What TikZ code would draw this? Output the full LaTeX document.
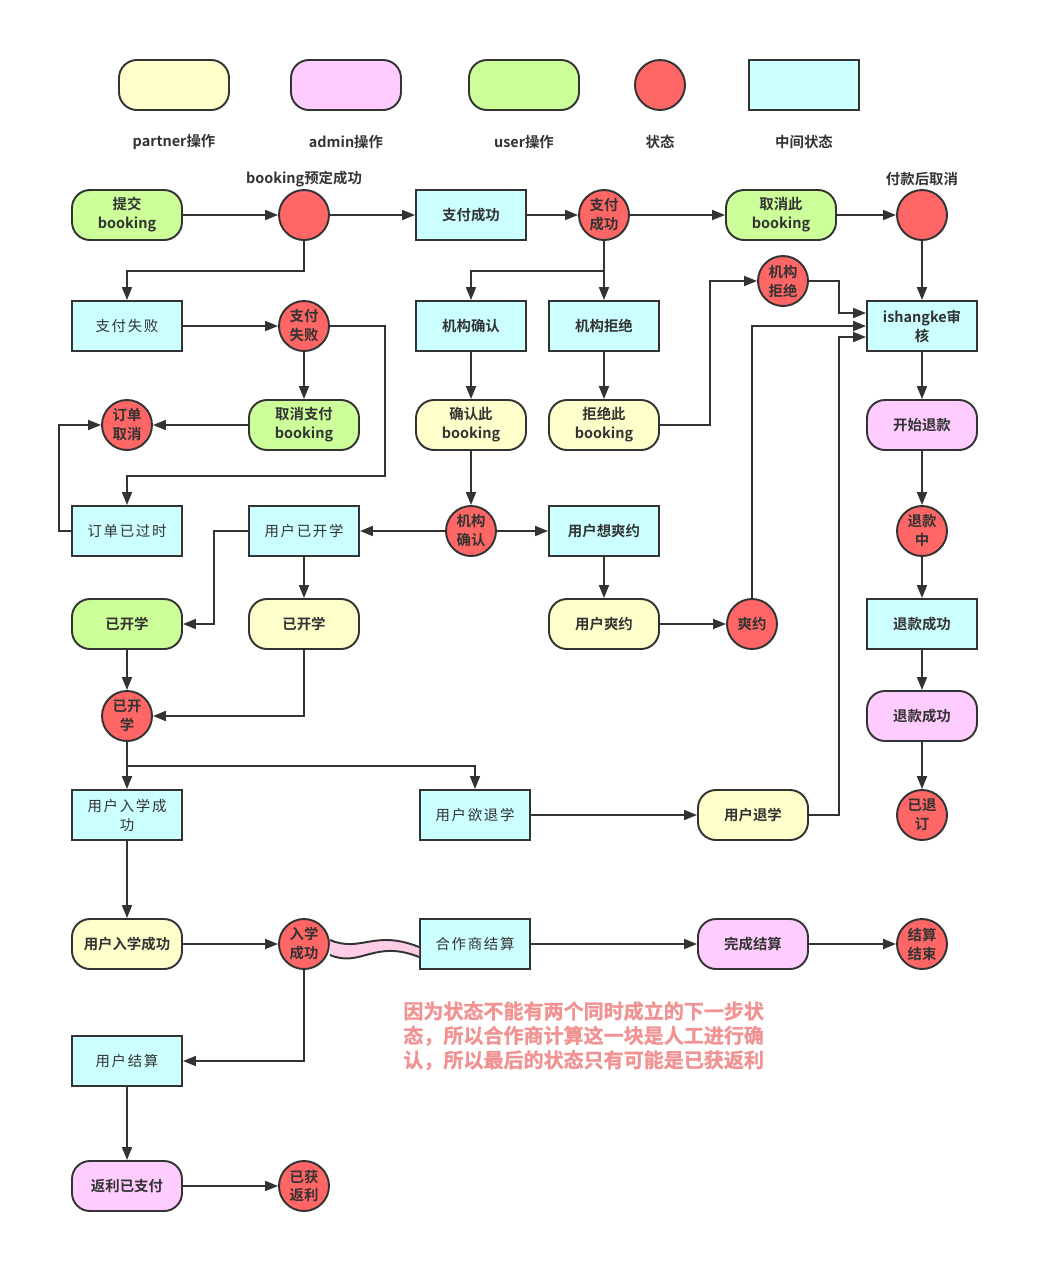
\documentclass[tikz,border=0pt]{standalone}
\usepackage{fontspec}
\setmainfont{Noto Sans CJK SC}[BoldFont={Noto Sans CJK SC Bold}]
\usetikzlibrary{arrows.meta, positioning}

\definecolor{linec}{HTML}{333333}
\definecolor{partnerc}{HTML}{FFFFCC}
\definecolor{adminc}{HTML}{FFCCFF}
\definecolor{userc}{HTML}{CCFF99}
\definecolor{statusc}{HTML}{FF6666}
\definecolor{midc}{HTML}{CCFFFF}
\definecolor{wavec}{HTML}{FFCCE6}
\definecolor{notec}{HTML}{F19393}

\begin{document}
\begin{tikzpicture} [node distance = 2cm, on grid,
    font = \bfseries\fontsize{8.2}{10.8}\selectfont,
    every node/.append style = {text=linec},
    box/.style = {draw=linec, line width=1.1pt, minimum width=2.2cm, minimum height=1cm, inner sep=1pt, align=center},
    partner/.style = {box, rounded corners=0.36cm, fill=partnerc},
    admin/.style = {box, rounded corners=0.36cm, fill=adminc},
    user/.style = {box, rounded corners=0.36cm, fill=userc},
    midbox/.style = {box, fill=midc},
    plain/.style = {font=\mdseries\fontsize{8.2}{10.8}\selectfont\addfontfeature{LetterSpace=12}},
    status/.style = {circle, draw=linec, line width=1.1pt, fill=statusc, minimum size=1cm, inner sep=0pt, align=center},
    flow/.style = {-{Triangle[length=0.26cm, width=0.2cm]}, draw=linec, line width=1.1pt},
    notetext/.style = {text=notec, font=\bfseries\fontsize{11.4}{13.9}\selectfont\addfontfeature{FakeBold=1.2}, align=left, inner sep=0pt}]
    \useasboundingbox (0,0) rectangle (21.06,-25.42);

    % legend
    \node (legp) [partner] at (3.48,-1.70) {};
    \node (lega) [admin, right = 3.44cm of legp] {};
    \node (legu) [user, right = 3.56cm of lega] {};
    \node (legs) [status, right = 2.72cm of legu] {};
    \node (legm) [midbox, right = 2.88cm of legs] {};
    \node (legptext) [below = 1.14cm of legp] {partner操作};
    \node (legatext) [below = 1.14cm of lega] {admin操作};
    \node (legutext) [below = 1.14cm of legu] {user操作};
    \node (legstext) [below = 1.14cm of legs] {状态};
    \node (legmtext) [below = 1.14cm of legm] {中间状态};

    % booking and payment
    \node (submit) [user] at (2.54,-4.30) {提交\\booking};
    \node (booked) [status, right = 3.54cm of submit] {};
    \node (bookedtext) [above = 0.72cm of booked] {booking预定成功};
    \node (paidbox) [midbox, right = 3.34cm of booked] {支付成功};
    \node (paid) [status, right = 2.66cm of paidbox] {支付\\成功};
    \node (cancelpaid) [user, right = 3.54cm of paid] {取消此\\booking};
    \node (aftercancel) [status, right = 2.82cm of cancelpaid] {};
    \node (aftercanceltext) [above = 0.72cm of aftercancel] {付款后取消};

    \node (payfailbox) [midbox, plain, below = 2.22cm of submit] {支付失败};
    \node (payfail) [status, below = 2.22cm of booked] {支付\\失败};
    \node (orgokbox) [midbox, below = 2.22cm of paidbox] {机构确认};
    \node (orgnobox) [midbox, below = 2.22cm of paid] {机构拒绝};
    \node (orgno) [status, below right = 1.32cm and 3.58cm of paid] {机构\\拒绝};
    \node (review) [midbox, below = 2.22cm of aftercancel] {ishangke审\\核};

    \node (ordercancel) [status, below = 1.98cm of payfailbox] {订单\\取消};
    \node (cancelpay) [user, below = 1.98cm of payfail] {取消支付\\booking};
    \node (confirm) [partner, below = 1.98cm of orgokbox] {确认此\\booking};
    \node (reject) [partner, below = 1.98cm of orgnobox] {拒绝此\\booking};
    \node (refundstart) [admin, below = 1.98cm of review] {开始退款};

    \node (expired) [midbox, plain, below = 2.12cm of ordercancel] {订单已过时};
    \node (startedbox) [midbox, plain, below = 2.12cm of cancelpay] {用户已开学};
    \node (orgok) [status, below = 2.12cm of confirm] {机构\\确认};
    \node (noshowbox) [midbox, below = 2.12cm of reject] {用户想爽约};
    \node (refunding) [status, below = 2.12cm of refundstart] {退款\\中};

    \node (starteduser) [user, below = 1.86cm of expired] {已开学};
    \node (startedpartner) [partner, below = 1.86cm of startedbox] {已开学};
    \node (noshowop) [partner, below = 1.86cm of noshowbox] {用户爽约};
    \node (noshow) [status, right = 2.96cm of noshowop] {爽约};
    \node (refunded) [midbox, below = 1.86cm of refunding] {退款成功};

    \node (started) [status, below = 1.84cm of starteduser] {已开\\学};
    \node (refundedadmin) [admin, below = 1.84cm of refunded] {退款成功};

    % enrolment and settlement
    \node (enrolledbox) [midbox, plain, below = 1.98cm of started] {用户入学成\\功};
    \node (quitbox) [midbox, plain, right = 6.96cm of enrolledbox] {用户欲退学};
    \node (quit) [partner, right = 5.56cm of quitbox] {用户退学};
    \node (unsubscribed) [status, below = 1.98cm of refundedadmin] {已退\\订};

    \node (enrolled) [partner, below = 2.58cm of enrolledbox] {用户入学成功};
    \node (enrolledst) [status, right = 3.54cm of enrolled] {入学\\成功};
    \node (settlebox) [midbox, plain, right = 6.96cm of enrolled] {合作商结算};
    \node (settle) [admin, right = 5.56cm of settlebox] {完成结算};
    \node (settled) [status, right = 3.38cm of settle] {结算\\结束};

    \node (usersettle) [midbox, plain, below = 2.34cm of enrolled] {用户结算};
    \node (rebate) [admin, below = 2.5cm of usersettle] {返利已支付};
    \node (rebated) [status, right = 3.54cm of rebate] {已获\\返利};

    \node (note) [notetext, anchor=north west] at (8.06,-20.02)
        {因为状态不能有两个同时成立的下一步状\\态，所以合作商计算这一块是人工进行确\\认，所以最后的状态只有可能是已获返利};

    % connectors
    \draw[flow] (submit) -- (booked);
    \draw[flow] (booked) -- (paidbox);
    \draw[flow] (paidbox) -- (paid);
    \draw[flow] (paid) -- (cancelpaid);
    \draw[flow] (cancelpaid) -- (aftercancel);
    \draw[flow] (booked.south) -- ++(0,-0.6) -| (payfailbox.north);
    \draw[flow] (paid) -- (orgnobox);
    \draw[flow] (paid.south) ++(0,-0.6) -| (orgokbox.north);
    \draw[flow] (aftercancel) -- (review);

    \draw[flow] (payfailbox) -- (payfail);
    \draw[flow] (payfail) -- (cancelpay);
    \draw[flow] (payfail.east) -- ++(1.1,0) -- ++(0,-3.0) -| (expired.north);
    \draw[flow] (orgokbox) -- (confirm);
    \draw[flow] (orgnobox) -- (reject);
    \draw[flow] (reject.east) -- ++(1.0,0) |- (orgno.west);
    \draw[flow] (orgno.east) -- ++(0.6,0) |- ([yshift=0.26cm]review.west);
    \draw[flow] (review) -- (refundstart);

    \draw[flow] (cancelpay) -- (ordercancel);
    \draw[flow] (confirm) -- (orgok);
    \draw[flow] (refundstart) -- (refunding);
    \draw[flow] (expired.west) -- ++(-0.24,0) |- (ordercancel.west);
    \draw[flow] (orgok) -- (startedbox);
    \draw[flow] (orgok) -- (noshowbox);
    \draw[flow] (startedbox.west) -- ++(-0.68,0) |- (starteduser.east);
    \draw[flow] (startedbox) -- (startedpartner);
    \draw[flow] (noshowbox) -- (noshowop);
    \draw[flow] (refunding) -- (refunded);

    \draw[flow] (noshowop) -- (noshow);
    \draw[flow] (noshow) |- (review.west);
    \draw[flow] (starteduser) -- (started);
    \draw[flow] (startedpartner) |- (started);
    \draw[flow] (refunded) -- (refundedadmin);

    \draw[flow] (started) -- (enrolledbox);
    \draw[flow] (started.south) ++(0,-0.48) -| (quitbox.north);
    \draw[flow] (refundedadmin) -- (unsubscribed);
    \draw[flow] (quitbox) -- (quit);
    \draw[flow] (quit.east) -- ++(0.6,0) |- ([yshift=-0.22cm]review.west);

    \draw[flow] (enrolledbox) -- (enrolled);
    \draw[flow] (enrolled) -- (enrolledst);
    \fill[wavec] ([yshift=0.08cm]enrolledst.east) .. controls +(0.62,-0.26) and +(-0.9,0.36) .. ([yshift=-0.06cm]settlebox.west)
        -- ([yshift=-0.26cm]settlebox.west) .. controls +(-0.9,0.36) and +(0.62,-0.26) .. ([yshift=-0.22cm]enrolledst.east) -- cycle;
    \draw[linec, line width=1.1pt] ([yshift=0.08cm]enrolledst.east) .. controls +(0.62,-0.26) and +(-0.9,0.36) .. ([yshift=-0.06cm]settlebox.west);
    \draw[linec, line width=1.1pt] ([yshift=-0.26cm]settlebox.west) .. controls +(-0.9,0.36) and +(0.62,-0.26) .. ([yshift=-0.22cm]enrolledst.east);
    \draw[flow] (settlebox) -- (settle);
    \draw[flow] (settle) -- (settled);
    \draw[flow] (enrolledst) |- (usersettle);
    \draw[flow] (usersettle) -- (rebate);
    \draw[flow] (rebate) -- (rebated);
\end{tikzpicture}
\end{document}
